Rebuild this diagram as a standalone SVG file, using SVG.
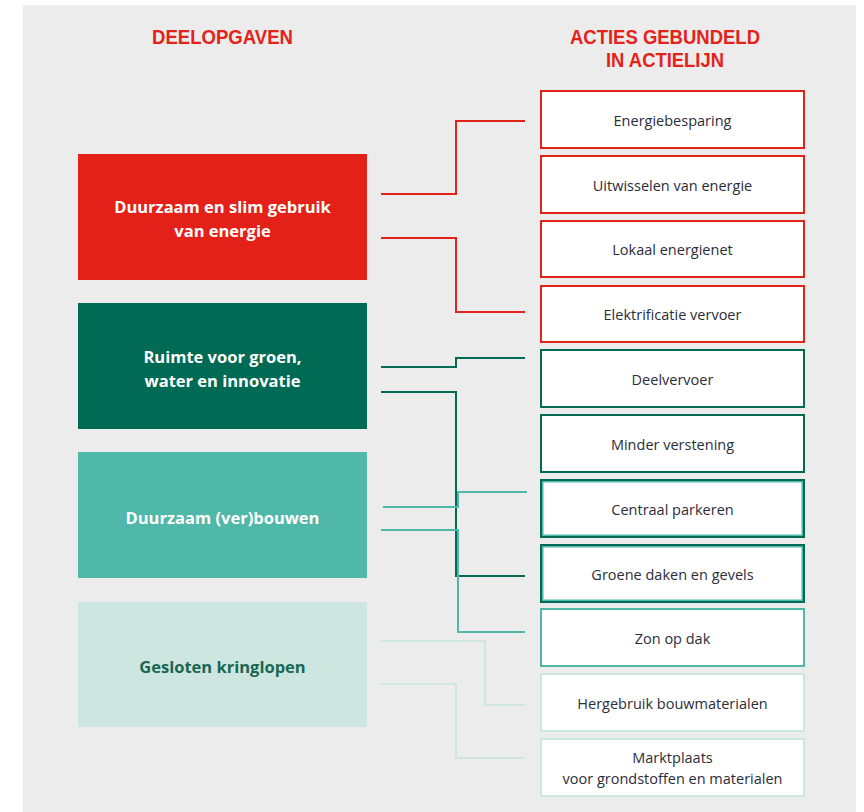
<svg xmlns="http://www.w3.org/2000/svg" width="864" height="812" viewBox="0 0 864 812">
<style>
.hdr{font-family:"Liberation Sans",Arial,sans-serif;font-weight:bold;font-size:20.5px;fill:#e3231a;text-anchor:middle}
.lt{font-family:"Open Sans","Noto Sans",sans-serif;font-weight:bold;font-size:16.5px;text-anchor:middle}
.rt{font-family:"Open Sans","Noto Sans",sans-serif;font-size:14.5px;fill:#2b2d3a;text-anchor:middle}
.rb{fill:#ffffff;stroke-width:2}
.red{stroke:#e3231a}
.dg{stroke:#006a55}
.tl{stroke:#50b8a8}
.lm{stroke:#cde6df}
.c{fill:none;stroke-width:2}
</style>
<rect x="0" y="0" width="864" height="812" fill="#ffffff"/>
<rect x="23" y="5" width="833" height="807" fill="#ececec"/>
<g id="headers">
<text class="hdr" x="222.5" y="44" textLength="141" lengthAdjust="spacingAndGlyphs">DEELOPGAVEN</text>
<text class="hdr" x="665" y="44" textLength="190" lengthAdjust="spacingAndGlyphs">ACTIES GEBUNDELD</text>
<text class="hdr" x="665" y="67" textLength="118" lengthAdjust="spacingAndGlyphs">IN ACTIELIJN</text>
</g>
<g id="connectors">
<polyline class="c red" points="381,194 456,194 456,121 525,121"/>
<polyline class="c red" points="381,238 456,238 456,312 525,312"/>
<polyline class="c dg" points="381,367 456,367 456,358 525,358"/>
<polyline class="c dg" points="381,392 456,392 456,576 525,576"/>
<polyline class="c tl" points="383,507 458,507 458,492 527,492"/>
<polyline class="c tl" points="381,530 458,530 458,632 525,632"/>
<polyline class="c lm" points="381,641 485,641 485,705 525,705"/>
<polyline class="c lm" points="381,684 456,684 456,758 525,758"/>
</g>
<g id="n-energie">
<rect x="78" y="154" width="289" height="126" fill="#e32119"/>
<text class="lt" x="222.5" y="213" fill="#ffffff">Duurzaam en slim gebruik</text>
<text class="lt" x="222.5" y="237" fill="#ffffff">van energie</text>
</g>
<g id="n-groen">
<rect x="78" y="303" width="289" height="126" fill="#006a55"/>
<text class="lt" x="222.5" y="363" fill="#ffffff">Ruimte voor groen,</text>
<text class="lt" x="222.5" y="387" fill="#ffffff">water en innovatie</text>
</g>
<g id="n-bouwen">
<rect x="78" y="452" width="289" height="126" fill="#50b8a8"/>
<text class="lt" x="222.5" y="524" fill="#ffffff">Duurzaam (ver)bouwen</text>
</g>
<g id="n-kringlopen">
<rect x="78" y="602" width="289" height="125" fill="#cde6df"/>
<text class="lt" x="222.5" y="673" fill="#1a6652">Gesloten kringlopen</text>
</g>
<g id="a-energiebesparing"><rect class="rb red" x="541" y="91" width="263" height="57"/><text class="rt" x="672.5" y="126">Energiebesparing</text></g>
<g id="a-uitwisselen"><rect class="rb red" x="541" y="156" width="263" height="57"/><text class="rt" x="672.5" y="191">Uitwisselen van energie</text></g>
<g id="a-lokaal"><rect class="rb red" x="541" y="221" width="263" height="56"/><text class="rt" x="672.5" y="255">Lokaal energienet</text></g>
<g id="a-elektrificatie"><rect class="rb red" x="541" y="286" width="263" height="56"/><text class="rt" x="672.5" y="320">Elektrificatie vervoer</text></g>
<g id="a-deelvervoer"><rect class="rb dg" x="541" y="350" width="263" height="57"/><text class="rt" x="672.5" y="385">Deelvervoer</text></g>
<g id="a-verstening"><rect class="rb dg" x="541" y="415" width="263" height="57"/><text class="rt" x="672.5" y="450">Minder verstening</text></g>
<g id="a-parkeren"><rect class="rb dg" x="541" y="480" width="263" height="57"/><rect x="542.75" y="481.75" width="259.5" height="53.5" fill="none" stroke="#50b8a8" stroke-width="1.5"/><text class="rt" x="672.5" y="515">Centraal parkeren</text></g>
<g id="a-groene-daken"><rect class="rb dg" x="541" y="545" width="263" height="57"/><rect x="542.75" y="546.75" width="259.5" height="53.5" fill="none" stroke="#50b8a8" stroke-width="1.5"/><text class="rt" x="672.5" y="580">Groene daken en gevels</text></g>
<g id="a-zon"><rect class="rb tl" x="541" y="609" width="263" height="57"/><text class="rt" x="672.5" y="644">Zon op dak</text></g>
<g id="a-hergebruik"><rect class="rb lm" x="541" y="674" width="263" height="57"/><text class="rt" x="672.5" y="709">Hergebruik bouwmaterialen</text></g>
<g id="a-marktplaats"><rect class="rb lm" x="541" y="739" width="263" height="57"/><text class="rt" x="672.5" y="763">Marktplaats</text><text class="rt" x="672.5" y="784">voor grondstoffen en materialen</text></g>
</svg>
